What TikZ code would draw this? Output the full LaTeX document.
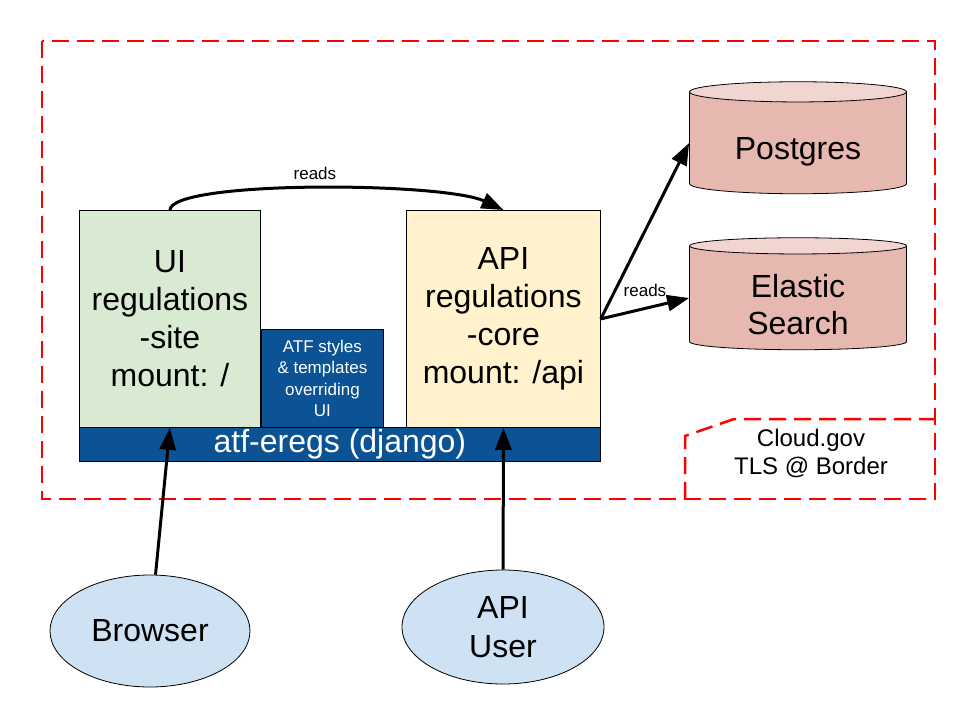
\documentclass[tikz,border=0pt]{standalone}
\usepackage{fontspec}
\setmainfont{Liberation Sans}
\usetikzlibrary{arrows.meta}
\usetikzlibrary{shapes.geometric}

\definecolor{uigreen}{HTML}{D9EAD3}
\definecolor{apiyellow}{HTML}{FFF2CC}
\definecolor{atfblue}{HTML}{0B5394}
\definecolor{dbred}{HTML}{E6B8AF}
\definecolor{dbtop}{HTML}{F0D5D0}
\definecolor{userblue}{HTML}{CFE2F3}
\definecolor{borderred}{HTML}{FF0000}

\begin{document}
\begin{tikzpicture}[x=1pt,y=-1pt]
                    \tikzstyle{border} = [borderred, line width=2.5pt, dash pattern=on 17pt off 8pt]
                    \tikzstyle{box} = [draw, line width=0.8pt, inner sep=0pt, anchor=north west, align=center, font=\fontsize{32}{38}\selectfont]
                    \tikzstyle{bluebox} = [box, fill=atfblue, text=white]
                    \tikzstyle{db} = [cylinder, shape border rotate=90, draw, line width=0.8pt, aspect=0.16, cylinder uses custom fill, cylinder body fill=dbred, cylinder end fill=dbtop, font=\fontsize{32}{37}\selectfont, minimum width=217pt, minimum height=112pt, inner sep=0pt]
                    \tikzstyle{client} = [ellipse, draw, line width=0.8pt, fill=userblue, align=center, font=\fontsize{32}{39}\selectfont, inner sep=0pt]
                    \tikzstyle{link} = [-{Triangle[length=22pt,width=16pt]}, line width=3pt]
                    \tikzstyle{small} = [font=\fontsize{17}{20}\selectfont]
                    \useasboundingbox (0,0) rectangle (960,720);
                    \draw[border] (42,41) rectangle (935,499);
                    \draw[border] (685,499) -- (685,436) -- (734,419) -- (935,419);
                    \node[font=\fontsize{24}{28}\selectfont, align=center] (cloud) at (811,453) {Cloud.gov\\TLS @ Border};
                    \node[box, fill=uigreen, minimum width=181pt, minimum height=217pt] (ui) at (79,210) {UI\\regulations\\-site\\mount: /};
                    \node[bluebox, font=\fontsize{17}{21.5}\selectfont, minimum width=122pt, minimum height=98pt] (atf) at (261,329) {ATF styles\\\& templates\\overriding\\UI};
                    \node[box, fill=apiyellow, minimum width=194pt, minimum height=217pt] (api) at (406,210) {API\\regulations\\-core\\mount: /api};
                    \node[bluebox, font=\fontsize{32}{34}\selectfont, text height=22pt, text depth=6pt, minimum width=521pt, minimum height=34pt] (django) at (79,427) {atf-eregs (django)};
                    \node[db] (pg) at (798,143) {\raisebox{-9pt}[\height][\depth]{Postgres}};
                    \node[db] (es) at (798,298) {\raisebox{-11pt}[\height][\depth]{\begin{tabular}{@{}c@{}}Elastic\\Search\end{tabular}}};
                    \node[client, minimum width=200pt, minimum height=112pt] (browser) at (150,631) {Browser};
                    \node[client, minimum width=202pt, minimum height=114pt] (apiuser) at (503,627) {API\\User};
                    \draw[link] (browser) -- (ui.south);
                    \draw[link] (apiuser) -- (api.south);
                    \draw[link] (ui.north) .. controls +(2,-30) and +(-60,-28) .. (api.north) node[small, pos=0.5, above=4pt] {reads};
                    \draw[link] (api.east) -- (pg.west);
                    \draw[link] (api.east) -- (es.west) node[small, pos=0.5, above=7pt] {reads};
                \end{tikzpicture}
\end{document}
